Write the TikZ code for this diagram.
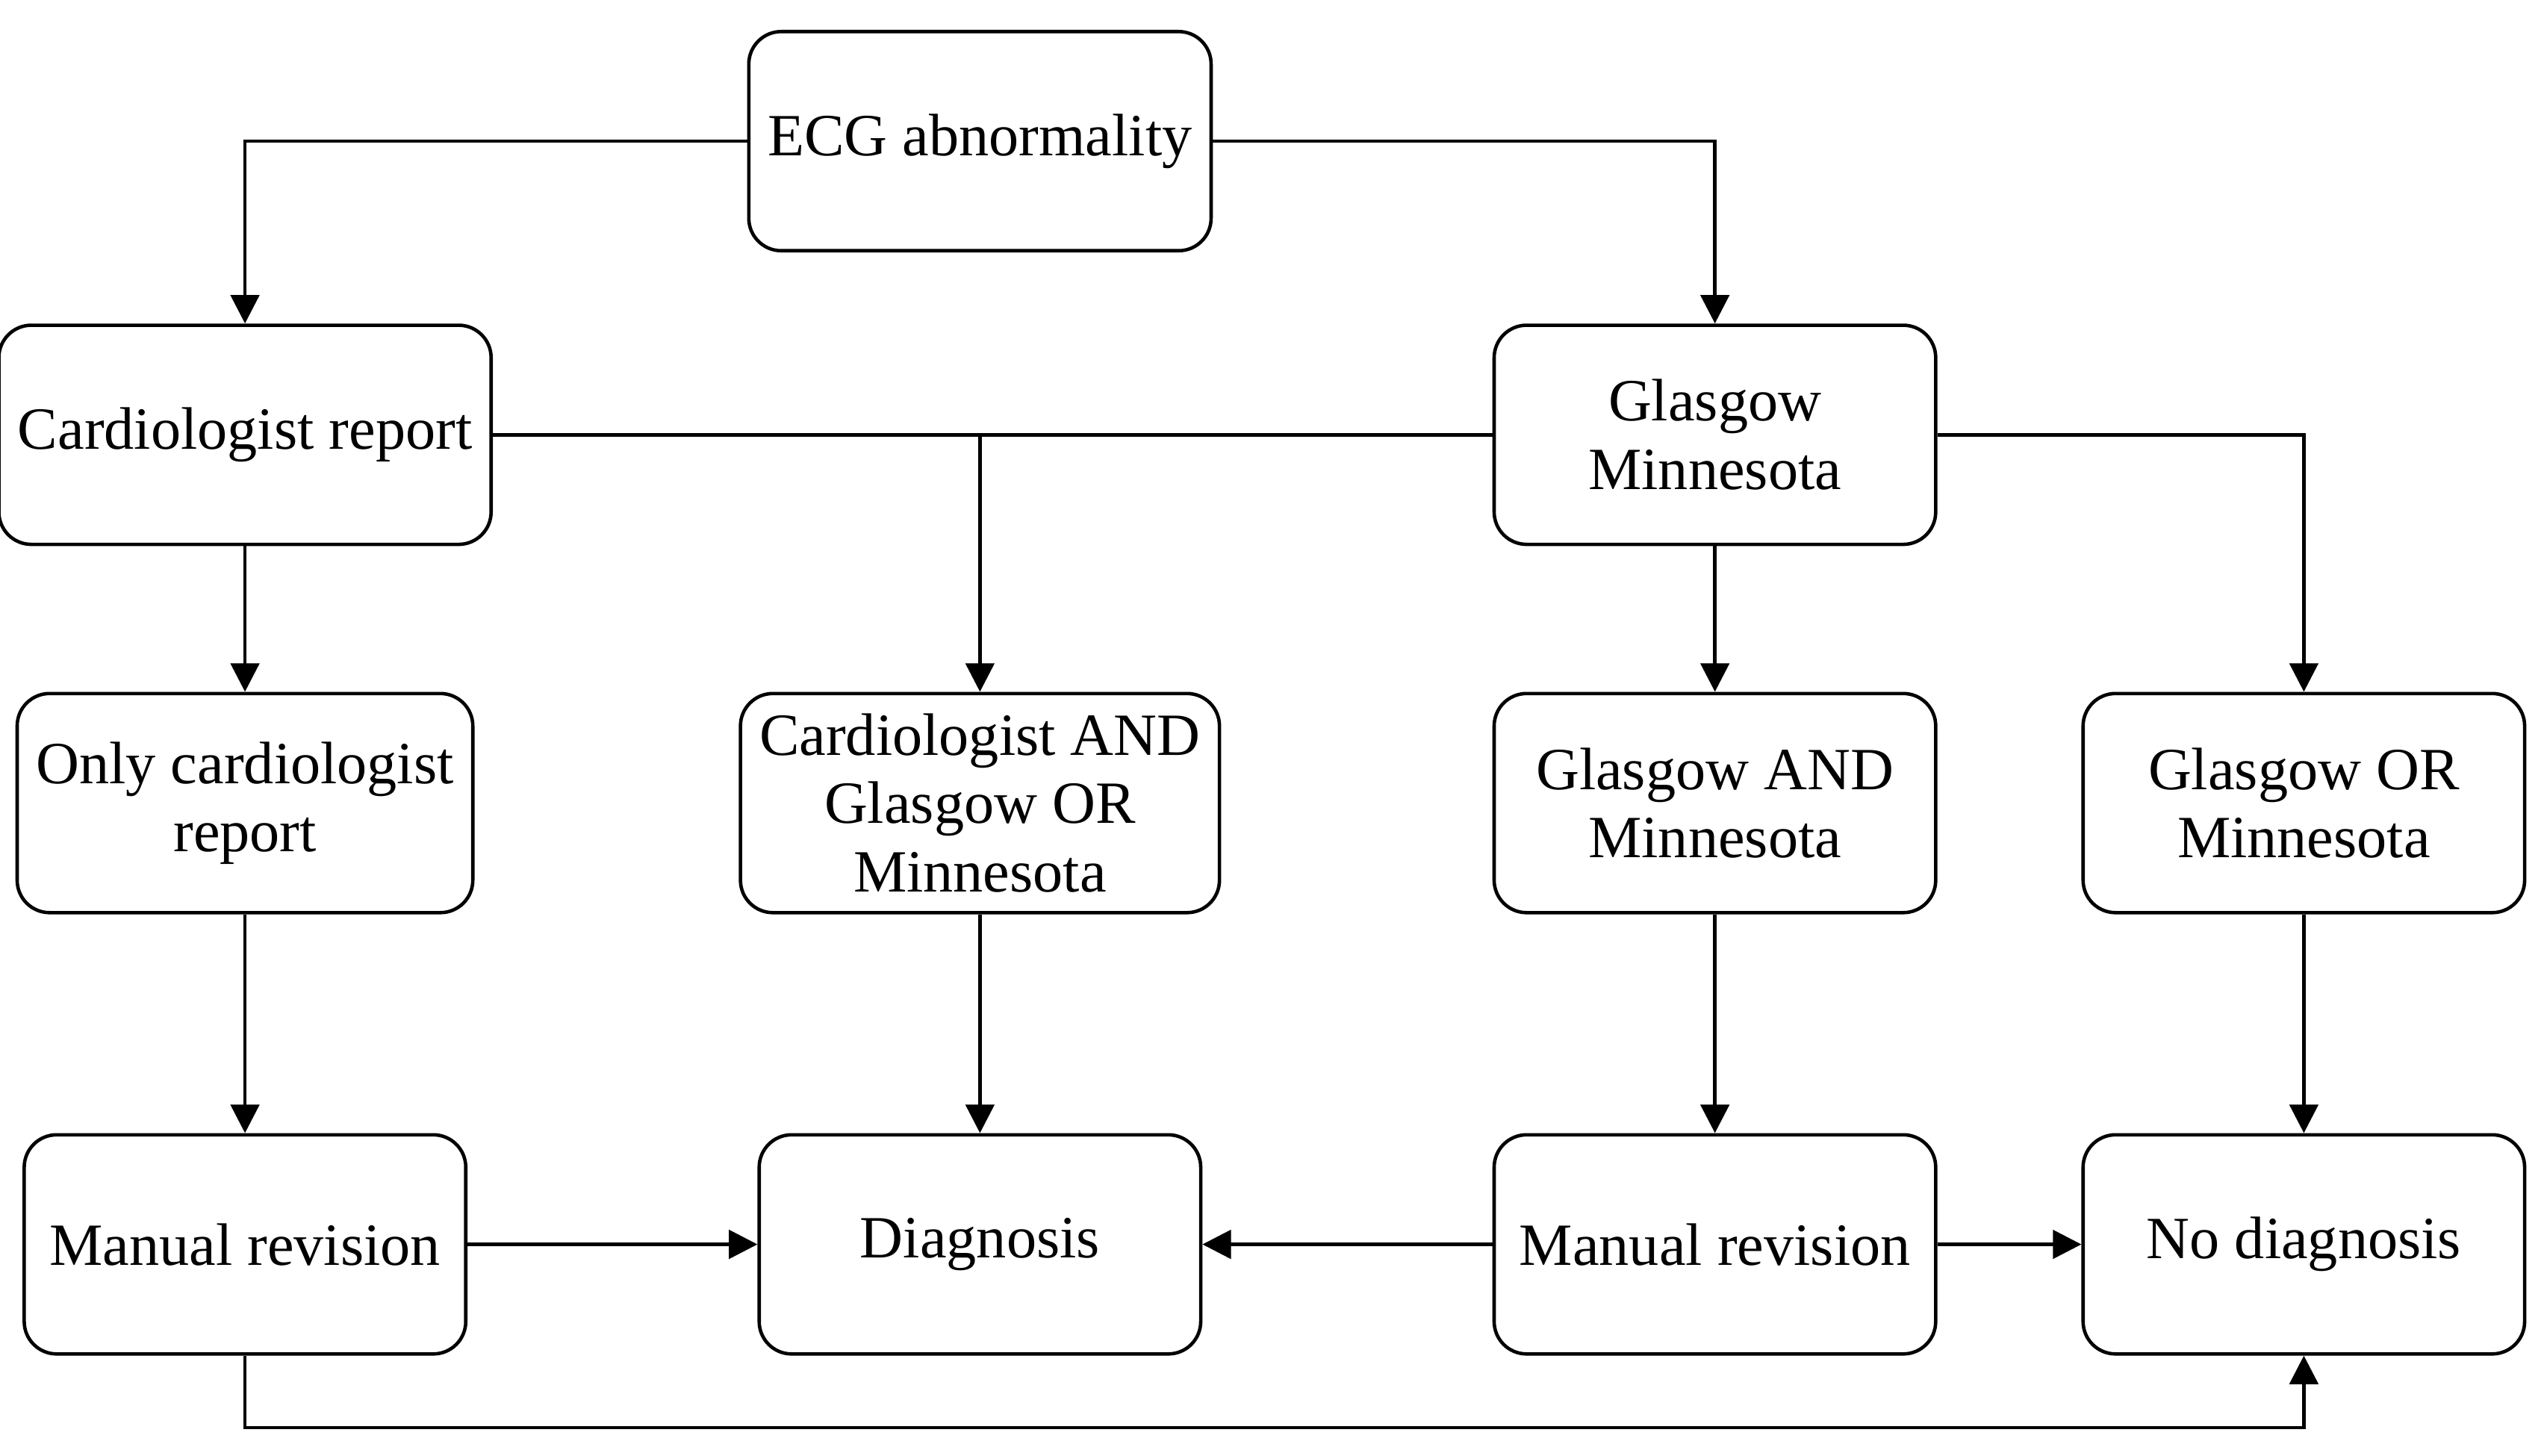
\documentclass[tikz,border=0pt]{standalone}
\usepackage{fontspec}
\setmainfont{Liberation Serif}
\usetikzlibrary{arrows.meta,positioning}
\tikzset{
  box/.style={draw, rounded corners=0.2cm, minimum width=2.72cm, minimum height=1.35cm,
    align=center, line width=0.6pt, font=\fontsize{10.5}{12}\selectfont},
  link/.style={line width=0.6pt, -{Triangle[length=5pt,width=5pt]}},
  line/.style={line width=0.6pt}
}
\begin{document}
\begin{tikzpicture}[x=0.01cm,y=-0.01cm]
\useasboundingbox (0,0) rectangle (1568,897);
\node[box] (ecg) at (604,87) {ECG abnormality};
\node[box] (card) at (151,268) {Cardiologist report};
\node[box] (glas) at (1057,268) {Glasgow\\Minnesota};
\node[box] (only) at (151,495) {Only cardiologist\\report};
\node[box] (cand) at (604,495) {Cardiologist AND\\Glasgow OR\\Minnesota};
\node[box] (gand) at (1057,495) {Glasgow AND\\Minnesota};
\node[box] (gor) at (1420,495) {Glasgow OR\\Minnesota};
\node[box] (man1) at (151,767) {Manual revision};
\node[box] (diag) at (604,767) {Diagnosis};
\node[box] (man2) at (1057,767) {Manual revision};
\node[box] (nodiag) at (1420,767) {No diagnosis};
\coordinate (junc) at (604,268);
\coordinate (bot) at (151,880);
% top row
\draw[link] (ecg.west) -| (card.north);
\draw[link] (ecg.east) -| (glas.north);
% second row
\draw[line] (card.east) -- (glas.west);
\draw[link] (junc) -- (cand.north);
\draw[link] (glas.east) -| (gor.north);
\draw[link] (glas.south) -- (gand.north);
\draw[link] (card.south) -- (only.north);
% third row
\draw[link] (only.south) -- (man1.north);
\draw[link] (cand.south) -- (diag.north);
\draw[link] (gand.south) -- (man2.north);
\draw[link] (gor.south) -- (nodiag.north);
% bottom row
\draw[link] (man1.east) -- (diag.west);
\draw[link] (man2.west) -- (diag.east);
\draw[link] (man2.east) -- (nodiag.west);
\draw[link] (man1.south) -- (bot) -| (nodiag.south);
\end{tikzpicture}
\end{document}
